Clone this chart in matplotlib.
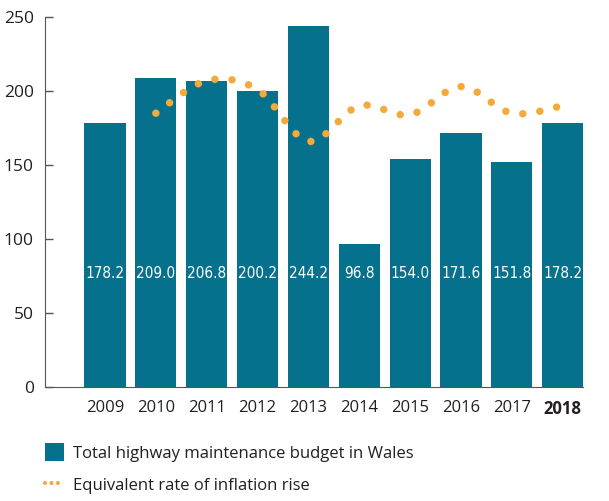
import numpy as np
import matplotlib
matplotlib.use("Agg")
import matplotlib.pyplot as plt
from matplotlib.path import Path
from matplotlib.patches import PathPatch, Patch
from matplotlib.lines import Line2D

years = ["2009", "2010", "2011", "2012", "2013", "2014", "2015", "2016", "2017", "2018"]
budget = [178.2, 209.0, 206.8, 200.2, 244.2, 96.8, 154.0, 171.6, 151.8, 178.2]
# inflation-adjusted equivalent, 2010 onwards
infl_years = ["2010", "2011", "2012", "2013", "2014", "2015", "2016", "2017", "2018"]
inflation = [185, 207, 201, 166, 190, 184, 203, 185, 190]

teal = "#05718C"
orange = "#F4A93B"
txt = "#231F20"

plt.rcParams['font.family'] = ['Open Sans', 'DejaVu Sans']

fig = plt.figure(figsize=(6.09, 5.01), dpi=100)
ax = fig.add_axes([45/609, 1 - 387/501, 538/609, 370/501])

x = np.arange(len(years))
ax.bar(x, budget, width=0.81, color=teal, zorder=2)

for xi, v in zip(x, budget):
    ax.text(xi, 77, f"{v:.1f}", color="white", ha="center", va="center",
            fontsize=11, family="DejaVu Sans", fontstretch="condensed")

# smooth dotted curve through the inflation values
ix = np.array([years.index(y) for y in infl_years], dtype=float)
iy = np.array(inflation, dtype=float)
pts = np.column_stack([ix, iy])
verts = [pts[0]]
codes = [Path.MOVETO]
n = len(pts)
for i in range(n - 1):
    p0 = pts[i - 1] if i > 0 else pts[i]
    p3 = pts[i + 2] if i + 2 < n else pts[i + 1]
    c1 = pts[i] + (pts[i + 1] - p0) / 6
    c2 = pts[i + 1] - (p3 - pts[i]) / 6
    verts += [c1, c2, pts[i + 1]]
    codes += [Path.CURVE4] * 3
curve = PathPatch(Path(verts, codes), fill=False, edgecolor=orange, lw=5.4,
                  linestyle=(0, (0.001, 2.3)), capstyle="round", zorder=3)
ax.add_patch(curve)

ax.set_xlim(-1.18, 9.4)
ax.set_ylim(0, 250)
ax.set_yticks([0, 50, 100, 150, 200, 250])
ax.set_xticks(x)
ax.set_xticklabels(years)
ax.get_xticklabels()[-1].set_fontweight("bold")
ax.tick_params(axis="y", direction="in", length=6, width=1, colors="#555555",
               labelcolor=txt, labelsize=12.5, pad=8)
ax.tick_params(axis="x", length=0, labelcolor=txt, labelsize=12, pad=9)
for s in ["top", "right"]:
    ax.spines[s].set_visible(False)
ax.spines["left"].set_color("#555555")
ax.spines["bottom"].set_color("#555555")

handles = [
    Patch(facecolor=teal, edgecolor="none"),
    Line2D([0], [0], color=orange, lw=3, linestyle=(0, (0.001, 1.55)),
           dash_capstyle="round"),
]
labels = ["Total highway maintenance budget in Wales", "Equivalent rate of inflation rise"]
fig.legend(handles, labels, loc="upper left", bbox_to_anchor=(45/609, 1 - 443/501),
           frameon=False, fontsize=12, handlelength=1.15, handleheight=1.3,
           handletextpad=0.55, labelspacing=0.85, labelcolor=txt,
           borderpad=0, borderaxespad=0)

fig.savefig("out.png", dpi=100)
